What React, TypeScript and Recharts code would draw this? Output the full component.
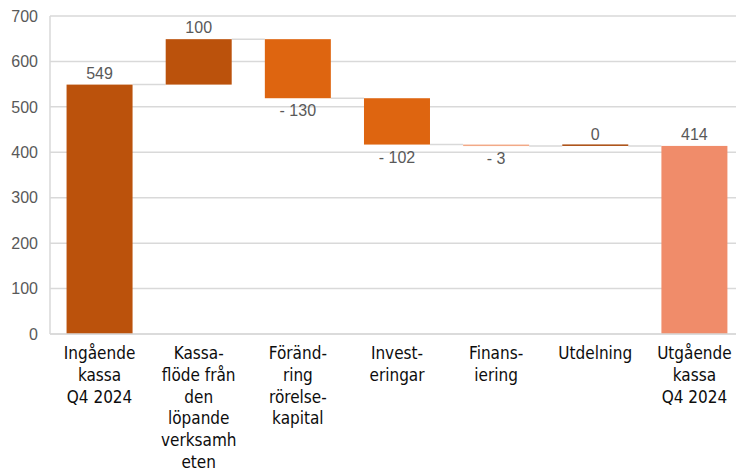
import { BarChart, Bar, XAxis, YAxis, CartesianGrid, LabelList } from "recharts";

// category labels, one entry per line as printed under the axis
const categoryLines = [
  ["Ingående", "kassa", "Q4 2024"],
  ["Kassa-", "flöde från", "den", "löpande", "verksamh", "eten"],
  ["Föränd-", "ring", "rörelse-", "kapital"],
  ["Invest-", "eringar"],
  ["Finans-", "iering"],
  ["Utdelning"],
  ["Utgående", "kassa", "Q4 2024"],
];
const stepValues = [549, 100, -130, -102, -3, 0, 414];
const stepKinds = ["total", "delta", "delta", "delta", "delta", "delta", "total"];
const yTicks = [0, 100, 200, 300, 400, 500, 600, 700];

const barColors = ["#BB520C", "#BB520C", "#DE6510", "#DE6510", "#F2A987", "#A8490B", "#F08C6A"];

const GAP = 0.167; // barCategoryGap per side
const NUM_FONT = "'Liberation Sans', Arial, sans-serif";
const CAT_FONT = "'Liberation Sans Narrow', 'DejaVu Sans Condensed', sans-serif";

// build the waterfall table
let level = 0;
const data = stepValues.map((v, i) => {
  let low: number, high: number, end: number;
  if (stepKinds[i] === "total") {
    low = 0;
    high = v;
    end = v;
  } else {
    low = Math.min(level, level + v);
    high = Math.max(level, level + v);
    end = level + v;
  }
  level = end;
  return { name: categoryLines[i].join(" "), range: [low, high], value: v, kind: stepKinds[i], end };
});

// eslint-disable-next-line @typescript-eslint/no-explicit-any
const StepShape = (props: any) => {
  const { x, y, width, height, index } = props;
  const row = data[index];
  const h = Math.max(height, 1.5);
  const endY = row.kind === "total" || row.value >= 0 ? y : y + height;
  const slot = width / (1 - 2 * GAP);
  return (
    <g>
      {index < data.length - 1 && (
        <line
          x1={x + width}
          x2={x + slot}
          y1={endY}
          y2={endY}
          stroke="#D9D9D9"
          strokeWidth={1.5}
        />
      )}
      <rect x={x} y={row.value < 0 ? y : y + height - h} width={width} height={h} fill={barColors[index]} />
    </g>
  );
};

// eslint-disable-next-line @typescript-eslint/no-explicit-any
const StepLabel = (props: any) => {
  const { x, y, width, height, index } = props;
  const v = stepValues[index];
  const neg = v < 0;
  return (
    <text
      x={x + width / 2}
      y={neg ? y + height + 18 : y - 6}
      textAnchor="middle"
      fill="#595959"
      fontSize={16}
      fontFamily={NUM_FONT}
    >
      {neg ? `- ${Math.abs(v)}` : v}
    </text>
  );
};

// eslint-disable-next-line @typescript-eslint/no-explicit-any
const CategoryTick = ({ x, y, payload }: any) => {
  const lines = categoryLines[payload.index] || [];
  return (
    <text x={x} y={y} textAnchor="middle" fill="#0D0D0D" fontSize={17} fontFamily={CAT_FONT}>
      {lines.map((line, i) => (
        <tspan key={i} x={x} dy={i === 0 ? 17 : 21.8}>
          {line}
        </tspan>
      ))}
    </text>
  );
};

export default function App() {
  return (
    <div style={{ position: "absolute", left: 0, top: 0, width: 736, height: 473, overflow: "hidden", background: "#fff" }}>
      <BarChart
        width={744}
        height={473}
        data={data}
        margin={{ top: 16, right: 0, left: 0, bottom: 0 }}
        barCategoryGap={`${GAP * 100}%`}
      >
        <CartesianGrid vertical={false} stroke="#D9D9D9" strokeWidth={1.5} />
        <XAxis
          dataKey="name"
          interval={0}
          height={139}
          tickLine={false}
          axisLine={{ stroke: "#D9D9D9", strokeWidth: 1.5 }}
          tick={<CategoryTick />}
        />
        <YAxis
          width={50}
          domain={[0, 700]}
          ticks={yTicks}
          tickLine={false}
          axisLine={{ stroke: "#D9D9D9", strokeWidth: 1.5 }}
          tickMargin={6}
          tick={{ fill: "#595959", fontSize: 16, fontFamily: NUM_FONT }}
        />
        <Bar dataKey="range" shape={<StepShape />} isAnimationActive={false}>
          <LabelList dataKey="value" content={<StepLabel />} />
        </Bar>
      </BarChart>
    </div>
  );
}
